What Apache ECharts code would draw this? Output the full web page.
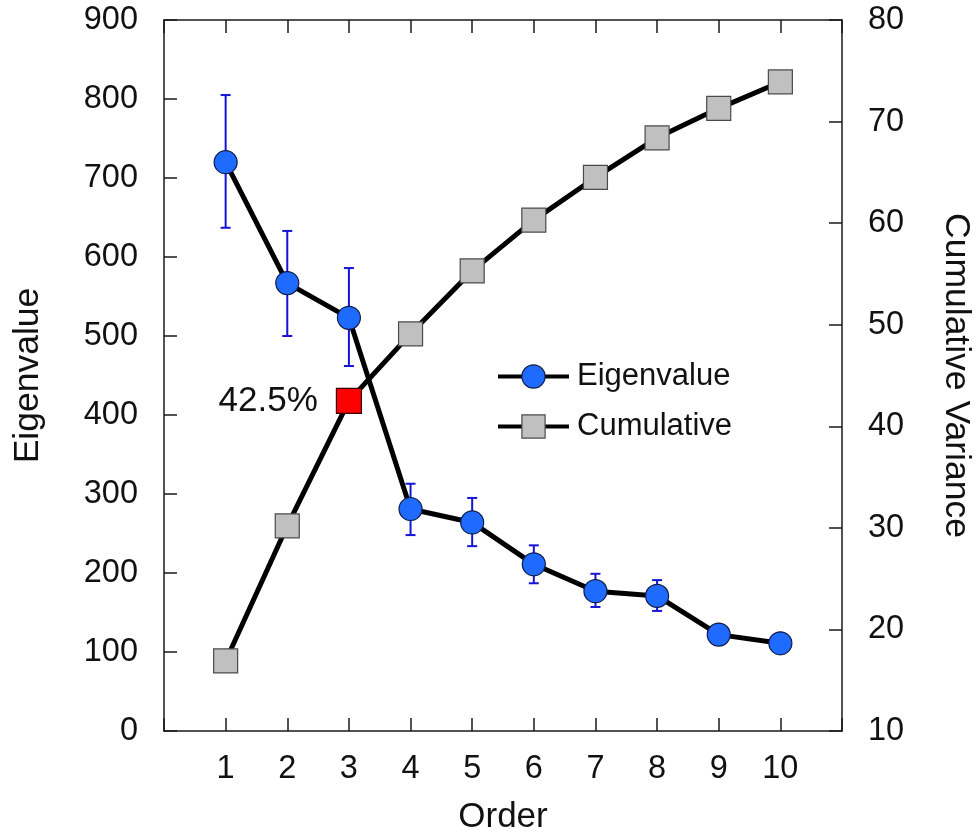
<!DOCTYPE html>
<html>
<head>
<meta charset="utf-8">
<script src="https://cdn.jsdelivr.net/npm/echarts@6/dist/echarts.min.js"></script>
<style>
html,body{margin:0;padding:0;background:#fff;}
#c{width:976px;height:832px;}
</style>
</head>
<body>
<div id="c"></div>
<script>
var orders = [1, 2, 3, 4, 5, 6, 7, 8, 9, 10];
var eigenvalues = [720, 567, 523, 281, 264, 211, 177, 171, 122, 111];
var errLow = [637, 500, 462, 248, 234, 187, 157, 152, null, null];
var errHigh = [805, 633, 586, 313, 295, 235, 199, 191, null, null];
var cumulative = [16.9, 30.2, 42.5, 49.1, 55.3, 60.3, 64.5, 68.4, 71.3, 73.9];
var highlightIndex = 2;
var highlightLabel = '42.5%';
var leftTicks = [0, 100, 200, 300, 400, 500, 600, 700, 800, 900];
var rightTicks = [10, 20, 30, 40, 50, 60, 70, 80];

var FONT = 'Liberation Sans, Arial, Helvetica, sans-serif';
var AX = '#1a1a1a';

var eigenData = orders.map(function (x, i) { return [x, eigenvalues[i]]; });
var errData = [];
orders.forEach(function (x, i) {
  if (errLow[i] != null) errData.push([x, errLow[i], errHigh[i]]);
});
var cumData = orders.map(function (x, i) {
  if (i === highlightIndex) {
    return {
      value: [x, cumulative[i]],
      symbolSize: 25,
      itemStyle: { color: '#ff0000', borderColor: '#3a0000', borderWidth: 1.2 },
      label: {
        show: true, position: 'left', distance: 18,
        formatter: highlightLabel, fontSize: 35, color: '#111', fontFamily: FONT
      }
    };
  }
  return [x, cumulative[i]];
});

function axisCommon() {
  return {
    axisLine: { show: true, onZero: false, lineStyle: { color: AX, width: 1.5 } },
    axisTick: { show: true, inside: true, length: 13, lineStyle: { color: AX, width: 1.5 } },
    splitLine: { show: false }
  };
}

var chart = echarts.init(document.getElementById('c'), null, { renderer: 'canvas' });
chart.setOption({
  backgroundColor: '#fff',
  animation: false,
  textStyle: { fontFamily: FONT },
  grid: { left: 164, right: 134, top: 20, bottom: 101, containLabel: false, outerBoundsMode: 'none' },
  legend: {
    orient: 'vertical',
    left: 496, top: 361, padding: 0,
    itemWidth: 71, itemHeight: 29, itemGap: 19,
    lineStyle: { width: 4, color: '#000' },
    itemStyle: { borderWidth: 1.2 },
    textStyle: { fontSize: 31, color: '#111', fontFamily: FONT, padding: [0, 0, 0, 3] },
    data: ['Eigenvalue', 'Cumulative']
  },
  xAxis: [Object.assign(axisCommon(), {
    type: 'value', min: 0, max: 11, interval: 1, position: 'bottom',
    name: 'Order', nameLocation: 'middle', nameGap: 69,
    nameTextStyle: { fontSize: 35, color: '#111', fontFamily: FONT },
    axisLabel: {
      fontSize: 32.5, color: '#111', margin: 22, fontFamily: FONT,
      formatter: function (v) { return (v >= 1 && v <= 10) ? String(v) : ''; }
    }
  }), Object.assign(axisCommon(), {
    type: 'value', min: 0, max: 11, interval: 1, position: 'top',
    axisLabel: { show: false }
  })],
  yAxis: [Object.assign(axisCommon(), {
    type: 'value', min: leftTicks[0], max: leftTicks[leftTicks.length - 1], interval: 100, position: 'left',
    name: 'Eigenvalue', nameLocation: 'middle', nameGap: 118, nameRotate: 90,
    nameTextStyle: { fontSize: 35.5, color: '#111', fontFamily: FONT },
    axisLabel: { fontSize: 32.5, color: '#111', margin: 26, fontFamily: FONT }
  }), Object.assign(axisCommon(), {
    type: 'value', min: rightTicks[0], max: rightTicks[rightTicks.length - 1], interval: 10, position: 'right',
    name: 'Cumulative Variance', nameLocation: 'middle', nameGap: 96, nameRotate: -90,
    nameTextStyle: { fontSize: 35.5, color: '#111', fontFamily: FONT },
    axisLabel: { fontSize: 32.5, color: '#111', margin: 26, fontFamily: FONT }
  })],
  series: [{
    type: 'custom',
    name: 'err',
    xAxisIndex: 0, yAxisIndex: 0,
    z: 1,
    silent: true,
    data: errData,
    renderItem: function (params, api) {
      var x = api.value(0);
      var lo = api.coord([x, api.value(1)]);
      var hi = api.coord([x, api.value(2)]);
      var hw = 5;
      var st = { stroke: '#1414d6', lineWidth: 2 };
      return {
        type: 'group',
        children: [
          { type: 'line', shape: { x1: lo[0], y1: lo[1], x2: hi[0], y2: hi[1] }, style: st },
          { type: 'line', shape: { x1: lo[0] - hw, y1: lo[1], x2: lo[0] + hw, y2: lo[1] }, style: st },
          { type: 'line', shape: { x1: hi[0] - hw, y1: hi[1], x2: hi[0] + hw, y2: hi[1] }, style: st }
        ]
      };
    }
  }, {
    type: 'line',
    name: 'Cumulative',
    xAxisIndex: 0, yAxisIndex: 1,
    z: 2,
    data: cumData,
    symbol: 'rect', symbolSize: 24,
    lineStyle: { color: '#000', width: 5 },
    itemStyle: { color: '#c0c0c0', borderColor: '#4a4a4a', borderWidth: 1.2 }
  }, {
    type: 'line',
    name: 'Eigenvalue',
    xAxisIndex: 0, yAxisIndex: 0,
    z: 3,
    data: eigenData,
    symbol: 'circle', symbolSize: 23,
    lineStyle: { color: '#000', width: 5 },
    itemStyle: { color: '#1f6bff', borderColor: '#101c4a', borderWidth: 1.2 }
  }]
});
</script>
</body>
</html>
